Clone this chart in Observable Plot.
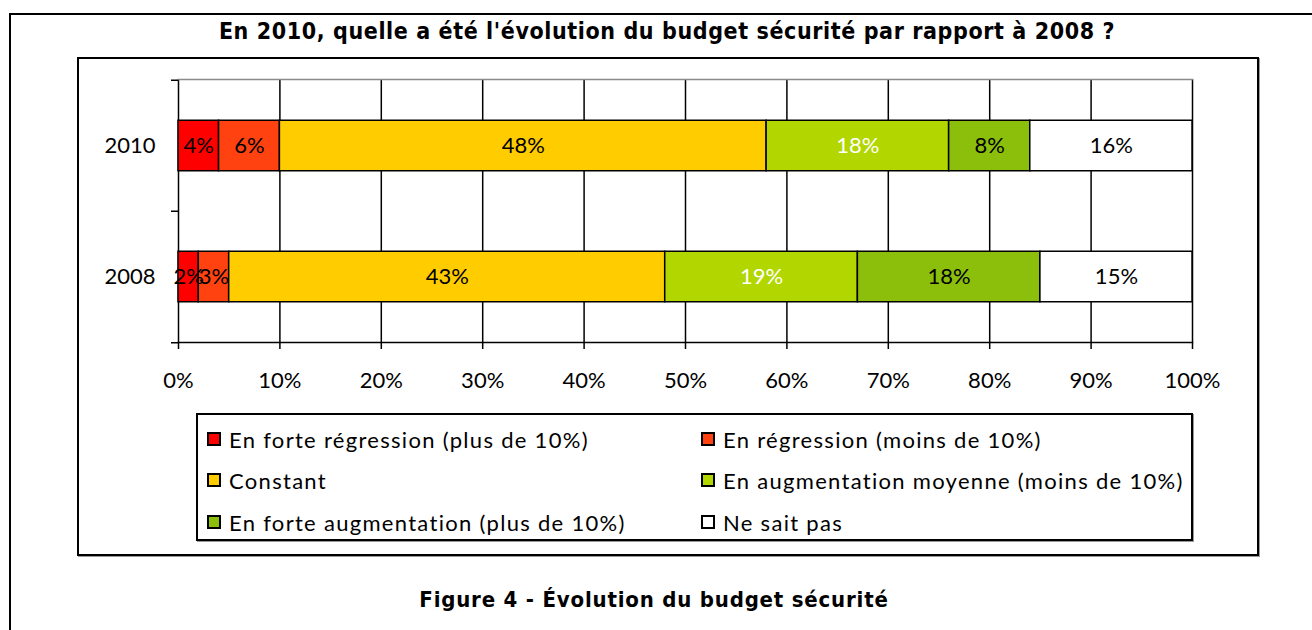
<!DOCTYPE html>
<html>
<head>
<meta charset="utf-8">
<script src="https://cdn.jsdelivr.net/npm/d3@7"></script>
<script src="https://cdn.jsdelivr.net/npm/@observablehq/plot@0.6"></script>
<style>
  html, body { margin: 0; padding: 0; background: #fff; }
  #page { position: relative; width: 1312px; height: 630px; overflow: hidden; font-family: Lato, "Open Sans", sans-serif; }
  #outer { position: absolute; left: 9px; top: 13px; width: 1340px; height: 700px; border: 2px solid #000; box-sizing: border-box; }
  #title { position: absolute; left: 9px; top: 16px; width: 1316px; text-align: center; font-family: "DejaVu Sans Condensed", "DejaVu Sans", sans-serif; font-weight: bold; font-size: 23px; letter-spacing: 0.6px; color: #000; line-height: 30px; }
  #inner { position: absolute; left: 77px; top: 57px; width: 1182px; height: 499px; border: 2px solid #000; box-sizing: border-box; box-shadow: 1px 1px 0 #999; }
  #chart { position: absolute; left: 80px; top: 60px; }
  #legend { position: absolute; left: 196px; top: 413px; width: 997px; height: 128px; border: 2px solid #000; box-sizing: border-box; box-shadow: 1px 1px 0 #999; }
  .item { position: absolute; display: flex; align-items: center; font-size: 22px; letter-spacing: 1.3px; color: #000; white-space: nowrap; }
  .sw { width: 14px; height: 14px; border: 2px solid #000; margin-right: 8px; box-sizing: border-box; }
  #caption { position: absolute; left: 9px; top: 585px; width: 1290px; text-align: center; font-family: "DejaVu Sans Condensed", "DejaVu Sans", sans-serif; font-weight: bold; font-size: 22px; letter-spacing: 0.8px; line-height: 30px; }
</style>
</head>
<body>
<div id="page">
  <div id="outer"></div>
  <div id="title">En 2010, quelle a été l'évolution du budget sécurité par rapport à 2008 ?</div>
  <div id="inner"></div>
  <div id="chart"></div>
  <div id="legend"></div>
  <div id="caption">Figure 4 - Évolution du budget sécurité</div>
</div>
<script>
const years = ["2010", "2008"];
const categories = [
  "En forte régression (plus de 10%)",
  "En régression (moins de 10%)",
  "Constant",
  "En augmentation moyenne (moins de 10%)",
  "En forte augmentation (plus de 10%)",
  "Ne sait pas"
];
const values2010 = [4, 6, 48, 18, 8, 16];
const values2008 = [2, 3, 43, 19, 18, 15];
const colors = ["#ff0000", "#ff4210", "#ffcc00", "#b2d600", "#8cbf0c", "#ffffff"];
const labelColors = ["#000", "#000", "#000", "#fff", "#000", "#000"];
const xTicks = [0, 10, 20, 30, 40, 50, 60, 70, 80, 90, 100];

const rows = [];
years.forEach((y, yi) => {
  const vals = yi === 0 ? values2010 : values2008;
  categories.forEach((c, ci) => rows.push({year: y, category: c, value: vals[ci], ci}));
});

const W = 1175, H = 340;
const mTop = 19, mBottom = 58, mLeft = 98, mRight = 63;
const bw = (H - mTop - mBottom) / years.length;
const barH = 51;
const inset = (bw - barH) / 2;

const chart = Plot.plot({
  width: W,
  height: H,
  marginTop: mTop,
  marginBottom: mBottom,
  marginLeft: mLeft,
  marginRight: mRight,
  style: {fontFamily: "Lato, 'Open Sans', sans-serif", fontSize: "22px", color: "#000", background: "transparent"},
  x: {domain: [0, 100]},
  y: {domain: years, padding: 0},
  color: {domain: categories, range: colors},
  marks: [
    Plot.ruleX(xTicks, {x: d => d, stroke: "#000", strokeWidth: 1.5}),
    Plot.frame({anchor: "top", stroke: "#8a8a8a", strokeWidth: 1.5}),
    Plot.frame({anchor: "bottom", stroke: "#000", strokeWidth: 1.5}),
    Plot.barX(rows, Plot.stackX({
      x: "value", y: "year", fill: "category", order: categories,
      stroke: "#000", strokeWidth: 1.5, insetTop: inset, insetBottom: inset
    })),
    Plot.text(rows, Plot.stackX({
      x: "value", y: "year", z: "category", order: categories,
      text: d => d.value + "%", fill: d => labelColors[d.ci], fontSize: 22
    })),
    Plot.axisX({ticks: xTicks, tickFormat: d => d + "%", tickSize: 7, tickPadding: 23, stroke: "#000", strokeWidth: 1.5, fontSize: 22, label: null}),
    Plot.axisY({tickSize: 0, tickPadding: 23, fontSize: 22, label: null}),
    Plot.ruleY(years, {y: d => d, x1: 0, x2: 0, insetLeft: -7, dy: -bw / 2, stroke: "#000", strokeWidth: 1.5}),
    Plot.ruleY(years.slice(-1), {y: d => d, x1: 0, x2: 0, insetLeft: -7, dy: bw / 2, stroke: "#000", strokeWidth: 1.5})
  ]
});
document.getElementById("chart").appendChild(chart);

const legend = document.getElementById("legend");
const rowY = [24, 65, 107];
const colX = [9, 503];
categories.forEach((c, i) => {
  const el = document.createElement("div");
  el.className = "item";
  el.style.left = colX[i % 2] + "px";
  el.style.top = (rowY[Math.floor(i / 2)] - 15) + "px";
  el.style.height = "30px";
  const sw = document.createElement("div");
  sw.className = "sw";
  sw.style.background = colors[i];
  el.appendChild(sw);
  const t = document.createElement("span");
  t.textContent = c;
  el.appendChild(t);
  legend.appendChild(el);
});
</script>
</body>
</html>
